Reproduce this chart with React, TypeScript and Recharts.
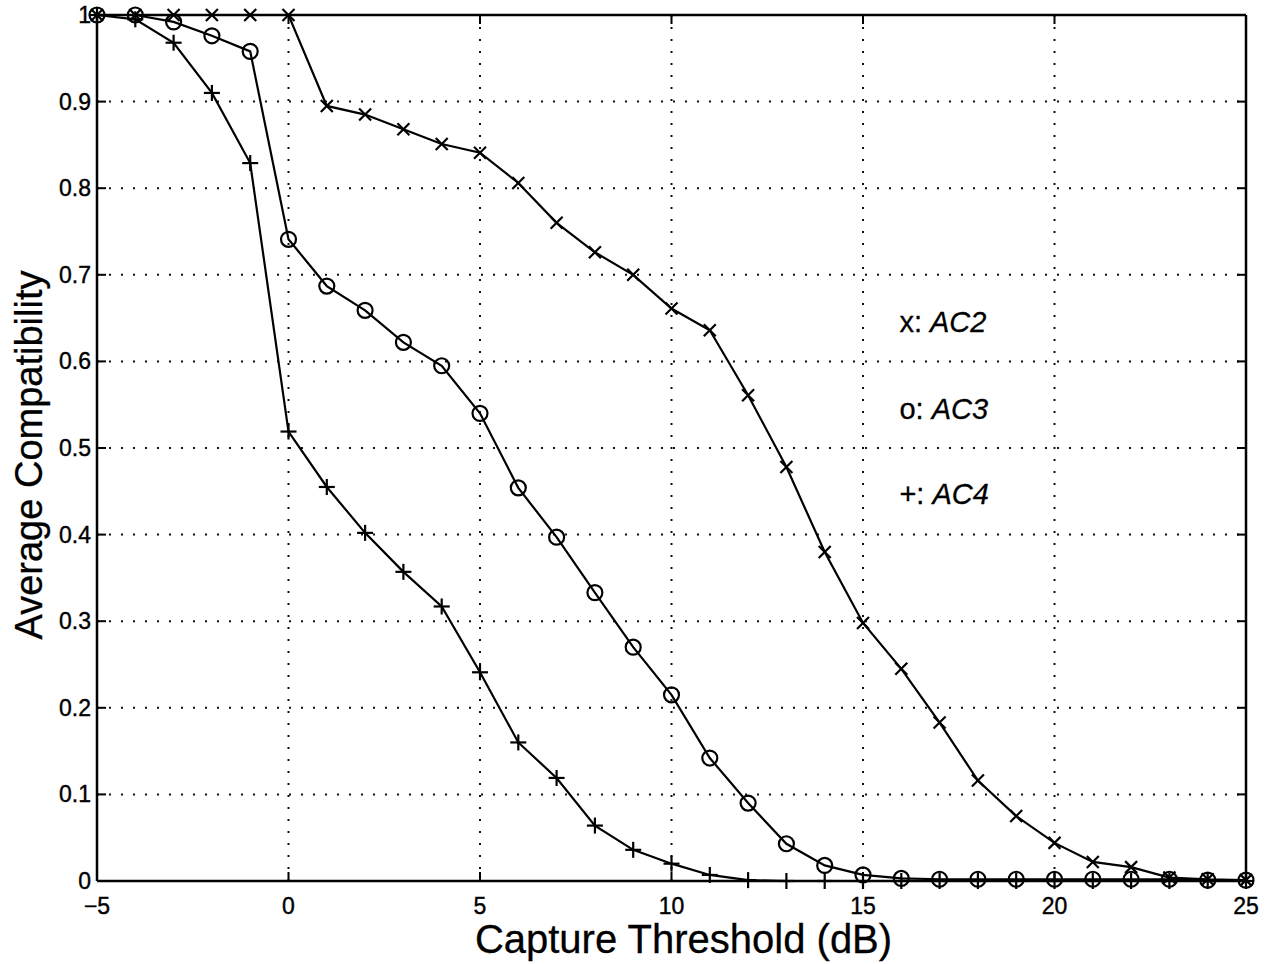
import { LineChart, Line, XAxis, YAxis, CartesianGrid, ReferenceLine, ReferenceDot, Label } from "recharts";

// capture threshold (dB) on x
const THRESHOLD_DB = [-5, -4, -3, -2, -1, 0, 1, 2, 3, 4, 5, 6, 7, 8, 9, 10, 11, 12, 13, 14, 15, 16, 17, 18, 19, 20, 21, 22, 23, 24, 25];

const AC2 = [1, 1, 1, 1, 1, 1, 0.895, 0.885, 0.868, 0.851, 0.841, 0.806, 0.76, 0.726, 0.7, 0.661, 0.636, 0.561, 0.478, 0.38, 0.298, 0.245, 0.183, 0.116, 0.075, 0.044, 0.022, 0.016, 0.004, 0.002, 0.001];
const AC3 = [1, 1, 0.992, 0.976, 0.958, 0.741, 0.687, 0.659, 0.622, 0.595, 0.54, 0.454, 0.397, 0.333, 0.27, 0.215, 0.142, 0.09, 0.043, 0.018, 0.007, 0.003, 0.002, 0.002, 0.002, 0.002, 0.002, 0.002, 0.002, 0.001, 0.001];
const AC4 = [1, 0.995, 0.968, 0.91, 0.829, 0.519, 0.455, 0.402, 0.357, 0.317, 0.241, 0.16, 0.119, 0.064, 0.036, 0.02, 0.007, 0.001, 0, 0, 0, 0, 0, 0, 0, 0, 0, 0, 0, 0, 0];

const X_TICKS = [-5, 0, 5, 10, 15, 20, 25];
const X_TICK_LABELS = ["\u22125", "0", "5", "10", "15", "20", "25"];
const Y_TICKS = [0, 0.1, 0.2, 0.3, 0.4, 0.5, 0.6, 0.7, 0.8, 0.9, 1];
const Y_TICK_LABELS = ["0", "0.1", "0.2", "0.3", "0.4", "0.5", "0.6", "0.7", "0.8", "0.9", "1"];

const LEGEND_SYMBOLS = ["x:", "o:", "+:"];
const LEGEND_NAMES = ["AC2", "AC3", "AC4"];
const LEGEND_X = 15.95;
const LEGEND_Y = [0.645, 0.545, 0.447];

const data = THRESHOLD_DB.map((t, i) => ({ t, ac2: AC2[i], ac3: AC3[i], ac4: AC4[i] }));

const W = 1282;
const H = 964;
const TOP = 15;
const RIGHT_GAP = 36;
const Y_AXIS_W = 97;
const X_AXIS_H = 83;
const PLOT_LEFT = Y_AXIS_W;
const PLOT_RIGHT = W - RIGHT_GAP;
const PLOT_BOTTOM = H - X_AXIS_H;
const TICK_LEN = 9;
const FONT = '"Liberation Sans", Arial, Helvetica, sans-serif';

function XTick({ x, payload }: any) {
  const i = X_TICKS.indexOf(payload.value);
  return (
    <g>
      <line x1={x} y1={PLOT_BOTTOM} x2={x} y2={PLOT_BOTTOM - TICK_LEN} stroke="#000" strokeWidth={2} />
      <line x1={x} y1={TOP} x2={x} y2={TOP + TICK_LEN} stroke="#000" strokeWidth={2} />
      <text x={x} y={PLOT_BOTTOM + 33} textAnchor="middle" fontSize={23} fontFamily={FONT} fill="#000" stroke="#000" strokeWidth={0.4}>
        {X_TICK_LABELS[i]}
      </text>
    </g>
  );
}

function YTick({ y, payload }: any) {
  const i = Y_TICKS.indexOf(payload.value);
  return (
    <g>
      <line x1={PLOT_LEFT} y1={y} x2={PLOT_LEFT + TICK_LEN} y2={y} stroke="#000" strokeWidth={2} />
      <line x1={PLOT_RIGHT} y1={y} x2={PLOT_RIGHT - TICK_LEN} y2={y} stroke="#000" strokeWidth={2} />
      <text x={PLOT_LEFT - 6} y={y + 8} textAnchor="end" fontSize={23} fontFamily={FONT} fill="#000" stroke="#000" strokeWidth={0.4}>
        {Y_TICK_LABELS[i]}
      </text>
    </g>
  );
}

const XMark = (p: any) => (
  <g key={`x-${p.index}`}>
    <line x1={p.cx - 6} y1={p.cy - 6} x2={p.cx + 6} y2={p.cy + 6} stroke="#000" strokeWidth={2.2} />
    <line x1={p.cx - 6} y1={p.cy + 6} x2={p.cx + 6} y2={p.cy - 6} stroke="#000" strokeWidth={2.2} />
  </g>
);

const OMark = (p: any) => (
  <circle key={`o-${p.index}`} cx={p.cx} cy={p.cy} r={7.5} fill="none" stroke="#000" strokeWidth={2.2} />
);

const PlusMark = (p: any) => (
  <g key={`p-${p.index}`}>
    <line x1={p.cx - 8} y1={p.cy} x2={p.cx + 8} y2={p.cy} stroke="#000" strokeWidth={2.2} />
    <line x1={p.cx} y1={p.cy - 8} x2={p.cx} y2={p.cy + 8} stroke="#000" strokeWidth={2.2} />
  </g>
);

export default function App() {
  return (
    <div style={{ position: "absolute", left: 0, top: 0, width: W, height: H, background: "#fff" }}>
      <LineChart width={W} height={H} data={data} margin={{ top: TOP, right: RIGHT_GAP, bottom: 0, left: 0 }}>
        <CartesianGrid stroke="#111" strokeWidth={2} strokeDasharray="2 10" />
        <XAxis
          dataKey="t"
          type="number"
          domain={[-5, 25]}
          ticks={X_TICKS}
          height={X_AXIS_H}
          tick={<XTick />}
          tickLine={false}
          axisLine={{ stroke: "#000", strokeWidth: 2.5 }}
        >
          <Label
            content={() => (
              <text x={(PLOT_LEFT + PLOT_RIGHT) / 2 + 12} y={953} textAnchor="middle" fontSize={40} fontFamily={FONT} fill="#000" stroke="#000" strokeWidth={0.3}>
                Capture Threshold (dB)
              </text>
            )}
          />
        </XAxis>
        <YAxis
          type="number"
          domain={[0, 1]}
          ticks={Y_TICKS}
          width={Y_AXIS_W}
          tick={<YTick />}
          tickLine={false}
          axisLine={{ stroke: "#000", strokeWidth: 2.5 }}
        >
          <Label
            content={() => (
              <text
                x={0}
                y={0}
                transform={`translate(42, ${(TOP + PLOT_BOTTOM) / 2 + 7}) rotate(-90)`}
                textAnchor="middle"
                fontSize={38}
                fontFamily={FONT}
                fill="#000"
                stroke="#000"
                strokeWidth={0.3}
              >
                Average Compatibility
              </text>
            )}
          />
        </YAxis>
        <ReferenceLine y={1} stroke="#000" strokeWidth={2.5} />
        <ReferenceLine x={25} stroke="#000" strokeWidth={2.5} />
        <Line dataKey="ac2" stroke="#000" strokeWidth={2.2} dot={XMark} isAnimationActive={false} />
        <Line dataKey="ac3" stroke="#000" strokeWidth={2.2} dot={OMark} isAnimationActive={false} />
        <Line dataKey="ac4" stroke="#000" strokeWidth={2.2} dot={PlusMark} isAnimationActive={false} />
        {LEGEND_Y.map((ly, i) => (
          <ReferenceDot
            key={LEGEND_NAMES[i]}
            x={LEGEND_X}
            y={ly}
            r={0}
            shape={(p: any) => (
              <text x={p.cx} y={p.cy + 10} fontSize={29} fontFamily={FONT} fill="#000" stroke="#000" strokeWidth={0.3}>
                {LEGEND_SYMBOLS[i]}{" "}
                <tspan fontStyle="italic">{LEGEND_NAMES[i]}</tspan>
              </text>
            )}
          />
        ))}
      </LineChart>
    </div>
  );
}
